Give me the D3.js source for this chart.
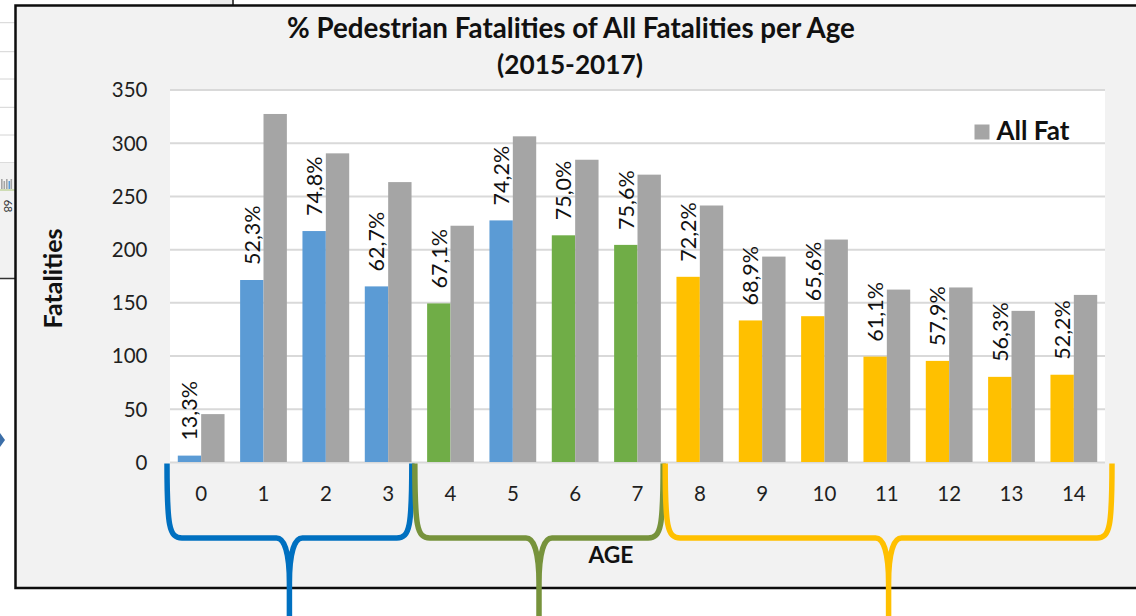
<!DOCTYPE html>
<html>
<head>
<meta charset="utf-8">
<script src="https://cdn.jsdelivr.net/npm/d3@7/dist/d3.min.js"></script>
<style>
  html, body { margin: 0; padding: 0; background: #ffffff; }
  svg { display: block; }
</style>
</head>
<body>
<script>
// ---------------- DATA ----------------
const ages = ["0","1","2","3","4","5","6","7","8","9","10","11","12","13","14"];
const pedFatalities = [6, 171, 217, 165, 149, 227, 213, 204, 174, 133, 137, 99, 95, 80, 82];
const allFatalities = [45, 327, 290, 263, 222, 306, 284, 270, 241, 193, 209, 162, 164, 142, 157];
const pctLabels = ["13,3%","52,3%","74,8%","62,7%","67,1%","74,2%","75,0%","75,6%","72,2%","68,9%","65,6%","61,1%","57,9%","56,3%","52,2%"];
const barGroup = ["A","A","A","A","B","A","B","B","C","C","C","C","C","C","C"];
const yTicks = [0, 50, 100, 150, 200, 250, 300, 350];
const braceFrom = ["0", "4", "8"];
const braceTo = ["3", "7", "14"];
const braceGroup = ["A", "B", "C"];
const titleLines = ["% Pedestrian Fatalities of All Fatalities per Age", "(2015-2017)"];
const legendLabel = "All Fat";
const yTitle = "Fatalities";
const xTitle = "AGE";

// ---------------- STYLE ----------------
const W = 1136, H = 616;
const FONT = "Lato, 'Open Sans', sans-serif";
const barColor = d3.scaleOrdinal().domain(["A","B","C"]).range(["#5B9BD5", "#70AD47", "#FFC000"]);
const braceColor = d3.scaleOrdinal().domain(["A","B","C"]).range(["#0070C0", "#77933C", "#FFC000"]);
const grayColor = "#A5A5A5";

const svg = d3.select("body").append("svg").attr("width", W).attr("height", H);

// ---------- surroundings outside the chart frame ----------
const outer = svg.append("g");
[22.7, 51.7, 79, 107.3, 135, 162.7].forEach(y => {
  outer.append("line").attr("x1", 0).attr("x2", 15).attr("y1", y).attr("y2", y)
    .attr("stroke", "#D4D4D4").attr("stroke-width", 1);
});
outer.append("rect").attr("x", 0).attr("y", 163).attr("width", 15).attr("height", 115).attr("fill", "#F2F2F2");
[[1, "#A5A5A5"], [3.5, "#A5A5A5"], [6, "#A5A5A5"], [8.5, "#5B9BD5"], [10.5, "#A5A5A5"]].forEach(([x, c], i) => {
  outer.append("rect").attr("x", x).attr("y", 179 + (i % 2) * 2).attr("width", 1.6).attr("height", 10 - (i % 2) * 2).attr("fill", c);
});
outer.append("line").attr("x1", 0).attr("x2", 15).attr("y1", 190).attr("y2", 190).attr("stroke", "#9BBB59").attr("stroke-width", 0.8);
outer.append("text").attr("transform", "translate(3.5,206) rotate(90)")
  .attr("text-anchor", "middle").attr("font-family", FONT).attr("font-size", 11).attr("fill", "#333").text("68");
outer.append("line").attr("x1", 0).attr("x2", 15).attr("y1", 278.5).attr("y2", 278.5).attr("stroke", "#333").attr("stroke-width", 1.5);
outer.append("path").attr("d", "M0,433 L5,440 L0,447 Z").attr("fill", "#3C6EA8");
outer.append("rect").attr("x", 210).attr("y", 0).attr("width", 22).attr("height", 5).attr("fill", "#EBEBEB");
outer.append("line").attr("x1", 233).attr("x2", 233).attr("y1", 0).attr("y2", 5).attr("stroke", "#111").attr("stroke-width", 1.5);

// ---------- chart frame ----------
svg.append("rect").attr("x", 15).attr("y", 5).attr("width", W - 15).attr("height", 583).attr("fill", "#F2F2F2");
const frame = svg.append("g");
frame.append("path").attr("d", `M${W + 2},5.5 L15.5,5.5 L15.5,588 L${W + 2},588`)
  .attr("fill", "none").attr("stroke", "#0d0d0d").attr("stroke-width", 2.5);

// ---------- scales ----------
const plot = { left: 170, right: 1105, top: 89.5, bottom: 462 };
const y = d3.scaleLinear().domain([0, 350]).range([plot.bottom, plot.top]);
const x0 = d3.scaleBand().domain(ages).range([plot.left, plot.right]).paddingInner(0.25).paddingOuter(0.125);
const x1 = d3.scaleBand().domain(["ped", "all"]).range([0, x0.bandwidth()]);
const step = x0.step();
const catStart = a => x0(a) - step * 0.125;  // edge of category slot

// plot area background
svg.append("rect").attr("x", plot.left).attr("y", plot.top)
  .attr("width", plot.right - plot.left).attr("height", plot.bottom - plot.top).attr("fill", "#FFFFFF");

// gridlines via axis
const yAxisGrid = d3.axisLeft(y).tickValues(yTicks).tickSize(-(plot.right - plot.left)).tickFormat("");
const gGrid = svg.append("g").attr("transform", `translate(${plot.left},0)`).call(yAxisGrid);
gGrid.select(".domain").remove();
gGrid.selectAll(".tick line").attr("stroke", "#D9D9D9").attr("stroke-width", 2);

// y tick labels via axis
const yAxis = d3.axisLeft(y).tickValues(yTicks).tickSize(0).tickPadding(0).tickFormat(d3.format("d"));
const gY = svg.append("g").attr("transform", `translate(147.5,0)`).call(yAxis);
gY.select(".domain").remove();
gY.selectAll(".tick text").attr("font-family", FONT).attr("font-size", 20.5).attr("fill", "#1f1f1f").attr("dy", "0.36em");

// x tick labels via axis
const xAxis = d3.axisBottom(x0).tickSize(0).tickPadding(0);
const gX = svg.append("g").attr("transform", `translate(0,501)`).call(xAxis);
gX.select(".domain").remove();
gX.selectAll(".tick text").attr("font-family", FONT).attr("font-size", 20.5).attr("fill", "#1f1f1f").attr("dy", 0);

// ---------- bars ----------
const rows = ages.map((a, i) => ({ age: a, ped: pedFatalities[i], all: allFatalities[i], label: pctLabels[i], group: barGroup[i] }));
const gBars = svg.append("g");
gBars.selectAll("rect.ped").data(rows).join("rect").attr("class", "ped")
  .attr("x", d => x0(d.age) + x1("ped")).attr("width", x1.bandwidth())
  .attr("y", d => y(d.ped)).attr("height", d => y(0) - y(d.ped))
  .attr("fill", d => barColor(d.group));
gBars.selectAll("rect.all").data(rows).join("rect").attr("class", "all")
  .attr("x", d => x0(d.age) + x1("all")).attr("width", x1.bandwidth())
  .attr("y", d => y(d.all)).attr("height", d => y(0) - y(d.all))
  .attr("fill", grayColor);

// percentage labels
svg.append("g").selectAll("text").data(rows).join("text")
  .attr("transform", d => `translate(${x0(d.age) + x1("ped") + x1.bandwidth() / 2},${y(d.ped) - 15}) rotate(-90)`)
  .attr("dy", "0.36em")
  .attr("font-family", FONT).attr("font-size", 21.5).attr("fill", "#111")
  .text(d => d.label);

// ---------- texts ----------
function fit(sel, width) {
  const len = sel.node().getComputedTextLength();
  const fs = parseFloat(sel.attr("font-size"));
  sel.attr("font-size", fs * width / len);
  return sel;
}
const t1 = svg.append("text").attr("x", 571).attr("y", 37.5).attr("text-anchor", "middle")
  .attr("font-family", FONT).attr("font-weight", 700).attr("font-size", 26).attr("fill", "#111").text(titleLines[0]);
fit(t1, 568);
const t2 = svg.append("text").attr("x", 570).attr("y", 73.5).attr("text-anchor", "middle")
  .attr("font-family", FONT).attr("font-weight", 700).attr("font-size", 26).attr("fill", "#111").text(titleLines[1]);
fit(t2, 146);

// legend
svg.append("rect").attr("x", 974.5).attr("y", 124.5).attr("width", 15).attr("height", 15).attr("fill", grayColor);
const lg = svg.append("text").attr("x", 996.5).attr("y", 140).attr("font-family", FONT).attr("font-weight", 700)
  .attr("font-size", 24).attr("fill", "#111").text(legendLabel);
fit(lg, 73);

// axis titles
const yt = svg.append("text").attr("transform", "translate(61.5,278.5) rotate(-90)").attr("text-anchor", "middle")
  .attr("font-family", FONT).attr("font-weight", 700).attr("font-size", 22).attr("fill", "#111").text(yTitle);
fit(yt, 100);
const xt = svg.append("text").attr("x", 611).attr("y", 562.5).attr("text-anchor", "middle")
  .attr("font-family", FONT).attr("font-weight", 700).attr("font-size", 22).attr("fill", "#111").text(xTitle);
fit(xt, 45);

// ---------- braces ----------
function bracePath(xL, xR, top, yb, bottom) {
  const cx = (xL + xR) / 2;
  return `M${xL},${top} C${xL},${yb - 12} ${xL + 2},${yb} ${xL + 15},${yb} L${cx - 13},${yb} ` +
    `C${cx - 5},${yb} ${cx},${yb + 15} ${cx},${yb + 45} L${cx},${bottom} ` +
    `M${cx},${yb + 45} C${cx},${yb + 15} ${cx + 5},${yb} ${cx + 13},${yb} L${xR - 15},${yb} ` +
    `C${xR - 2},${yb} ${xR},${yb - 12} ${xR},${top}`;
}
const braceLeftPad = [-3, -4.5, -3.5];
const braceRightPad = [-7.5, -5.5, 7];
const gBr = svg.append("g");
braceGroup.forEach((g, i) => {
  const xL = catStart(braceFrom[i]) + braceLeftPad[i];
  const xR = catStart(braceTo[i]) + step + braceRightPad[i];
  gBr.append("path").attr("d", bracePath(xL, xR, 463.5, 538, H + 5))
    .attr("fill", "none").attr("stroke", braceColor(g)).attr("stroke-width", 5.5).attr("stroke-linejoin", "round");
});
</script>
</body>
</html>
